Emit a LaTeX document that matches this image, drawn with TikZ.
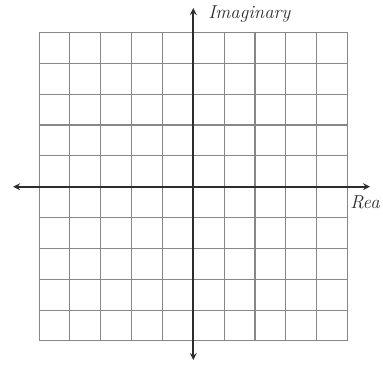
\documentclass[tikz,border=0pt]{standalone}
\usepackage{tikz}
\usetikzlibrary{arrows, positioning}
\usepackage{xcolor}
\definecolor{gridcolor}{RGB}{135,135,135}
\definecolor{axiscolor}{RGB}{45,45,45}

\begin{document}
\begin{tikzpicture}[
    x=23pt, y=23pt,
    gridline/.style={draw=gridcolor, line width=0.8pt},
    axis/.style={<->, >=stealth, draw=axiscolor, line width=1.3pt},
    axislabel/.style={font=\fontsize{14}{16}\selectfont\itshape, text=axiscolor, inner sep=0pt}
]
    % Page frame
    \useasboundingbox (-6.266,-6.039) rectangle (6.149,6.052);

    % Grid
    \foreach \i in {-5,...,5} {
        \draw[gridline] (\i,-5) -- (\i,5);
        \draw[gridline] (-5,\i) -- (5,\i);
    }

    % Axes
    \coordinate (west) at (-5.84,0);
    \coordinate (east) at (5.73,0);
    \coordinate (north) at (0,5.79);
    \coordinate (south) at (0,-5.62);
    \draw[axis] (west) -- (east);
    \draw[axis] (north) -- (south);

    % Axis labels
    \node[axislabel, anchor=west] (imag) at (0.48,5.6) {Imaginary};
    \node[axislabel, anchor=west] (real) at (5.08,-0.5) {Rea};
\end{tikzpicture}
\end{document}
